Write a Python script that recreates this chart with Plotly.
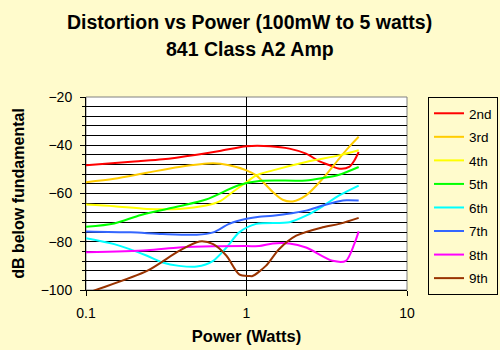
import plotly.graph_objects as go

names = ["2nd", "3rd", "4th", "5th", "6th", "7th", "8th", "9th"]
colors = ["#FF0000", "#FFCC00", "#FFFF00", "#00FF00", "#00FFFF", "#3366FF", "#FF00FF", "#993300"]

p2 = [0.1, 0.2, 0.3, 0.49, 0.68, 1.0, 1.4, 1.85, 2.35, 2.85, 3.3, 3.8, 4.36, 4.7, 5.0]
d2 = [-48.3, -46.7, -45.8, -43.9, -42.4, -40.4, -40.4, -41.4, -43.5, -46.7, -48.3, -49.7, -49.0, -46.3, -42.8]

p3 = [0.1, 0.15, 0.24, 0.38, 0.62, 0.78, 1.0, 1.15, 1.46, 1.68, 1.94, 2.35, 2.98, 3.78, 4.36, 5.0]
d3 = [-55.3, -53.9, -51.4, -49.0, -47.5, -48.3, -50.4, -52.5, -59.4, -62.6, -63.3, -60.8, -53.9, -45.5, -40.7, -36.5]

p4 = [0.1, 0.15, 0.24, 0.38, 0.56, 0.68, 0.82, 1.0, 1.15, 1.46, 2.35, 3.78, 5.0]
d4 = [-64.6, -65.3, -66.4, -66.4, -65.0, -63.3, -59.4, -55.3, -52.5, -50.4, -46.9, -44.2, -42.1]

p5 = [0.1, 0.15, 0.22, 0.38, 0.56, 0.9, 1.2, 2.35, 2.98, 3.78, 5.0]
d5 = [-73.8, -72.4, -68.9, -65.3, -62.5, -56.5, -54.8, -54.6, -53.6, -52.2, -49.0]

p6 = [0.1, 0.15, 0.24, 0.3, 0.38, 0.49, 0.62, 0.75, 0.9, 1.15, 1.85, 2.35, 2.98, 3.78, 5.0]
d6 = [-78.5, -81.0, -85.8, -88.6, -90.0, -90.3, -87.9, -82.4, -76.1, -72.6, -71.9, -69.2, -65.3, -60.8, -56.7]

p7 = [0.1, 0.19, 0.3, 0.49, 0.62, 0.78, 1.0, 1.2, 1.46, 2.35, 2.98, 3.78, 4.2, 5.0]
d7 = [-75.7, -76.1, -76.8, -77.1, -76.1, -72.6, -70.5, -69.6, -69.2, -67.1, -65.0, -63.2, -62.8, -62.9]

p8 = [0.1, 0.24, 0.38, 0.62, 1.0, 1.2, 1.46, 1.85, 2.35, 3.44, 4.16, 4.69, 5.0]
d8 = [-84.4, -83.5, -82.4, -81.9, -81.8, -81.8, -80.7, -80.7, -82.4, -87.9, -87.9, -81.0, -75.7]

p9 = [0.1, 0.114, 0.24, 0.38, 0.51, 0.62, 0.75, 0.9, 1.04, 1.09, 1.32, 1.6, 2.04, 2.98, 3.78, 5.0]
d9 = [-101.5, -100.1, -92.1, -83.8, -79.9, -81.0, -85.8, -93.5, -94.2, -94.2, -90.0, -83.0, -77.5, -74.0, -72.6, -70.1]

title_lines = ["Distortion vs Power (100mW to 5 watts)", "841 Class A2 Amp"]

xs = [p2, p3, p4, p5, p6, p7, p8, p9]
ys = [d2, d3, d4, d5, d6, d7, d8, d9]

font = "Liberation Sans, Arial, sans-serif"

fig = go.Figure()
for n, c, x, y in zip(names, colors, xs, ys):
    fig.add_trace(go.Scatter(x=x, y=y, name=n, mode="lines", legendgroup=n,
                             line=dict(color=c, width=2, shape="spline", smoothing=0.8),
                             cliponaxis=True))

fig.add_shape(type="rect", xref="x domain", yref="y domain", x0=0, x1=1, y0=0, y1=1,
              line=dict(color="#808080", width=1), layer="below")

for txt, ypx in zip(title_lines, [22, 49]):
    fig.add_annotation(text="<b>" + txt + "</b>", xref="paper", yref="paper",
                       x=(250 - 86) / 321, y=(290 - ypx) / 193, xanchor="center", yanchor="middle",
                       showarrow=False, font=dict(family=font, size=19.5, color="black"))

fig.update_layout(
    width=500, height=350,
    margin=dict(l=86, r=93, t=97, b=60, autoexpand=False),
    paper_bgcolor="#FFFBCC", plot_bgcolor="#FFFFFF",
    font=dict(family=font, size=14, color="black"),
    showlegend=True,
    legend=dict(x=(498 - 86) / 321, xanchor="right", y=1.0, yanchor="top",
                bgcolor="#FFFBCC", bordercolor="black", borderwidth=1,
                font=dict(family=font, size=13.5, color="black"),
                tracegroupgap=3, itemwidth=30, maxheight=300),
)

fig.update_xaxes(type="log", range=[-1, 1], showgrid=True, gridcolor="black", gridwidth=1,
                 showline=True, linecolor="black", linewidth=1, ticks="outside", ticklen=5,
                 tickcolor="black", zeroline=False, tickfont=dict(size=14),
                 tickvals=[0.1, 1, 10], ticktext=["0.1", "1", "10"], ticklabelstandoff=5,
                 title=dict(text="<b>Power (Watts)</b>", font=dict(size=16.5), standoff=10))
fig.update_yaxes(range=[-100, -20], tick0=-100, dtick=20, showgrid=True, gridcolor="black", gridwidth=1,
                 showline=True, linecolor="black", linewidth=1, ticks="outside", ticklen=5,
                 tickcolor="black", zeroline=False, tickfont=dict(size=14), ticklabelstandoff=5,
                 minor=dict(dtick=4, tick0=-100, showgrid=True, gridcolor="black", gridwidth=1,
                            ticks="outside", ticklen=3, tickcolor="black"),
                 title=dict(text="<b>dB below fundamental</b>", font=dict(size=16), standoff=12))

fig.write_html("out.html")
